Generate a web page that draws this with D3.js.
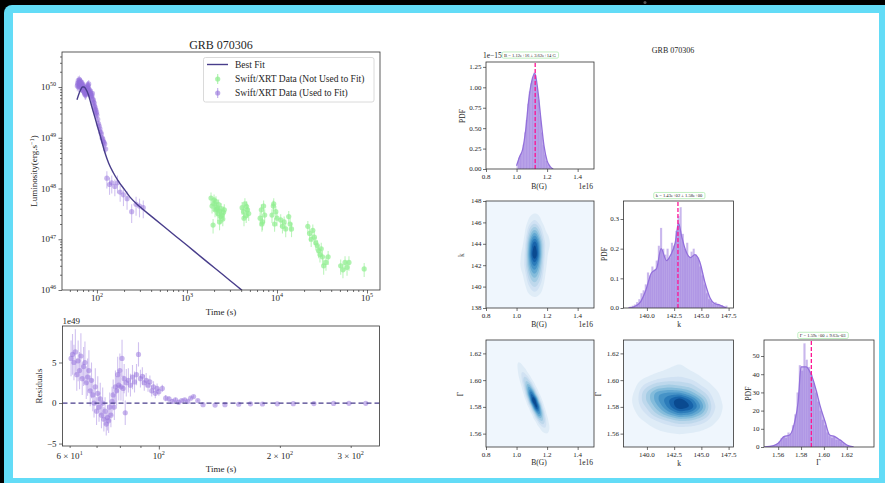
<!DOCTYPE html>
<html><head><meta charset="utf-8">
<script src="https://cdn.jsdelivr.net/npm/d3@7/dist/d3.min.js"></script>
<style>
html,body{margin:0;padding:0;background:#000;overflow:hidden}
svg{display:block}
text{font-family:"Liberation Serif","Times New Roman",Times,serif;fill:#262626}
</style></head><body>
<svg id="chart" width="885" height="483"></svg>
<script>
// ================= DATA =================
// Best-fit model light curve (time s, luminosity erg/s)
const fitTime = [60,63,66,69,72,75,80,85,90,95,100,108,115,123,135,151,175,200,233,300,400,550,750,1000,1500,2000,3000,4100,4400];
const fitLum  = [5.6e49,7.3e49,8.9e49,1.0e50,1.0e50,9.2e49,7.2e49,5.0e49,3.47e49,2.51e49,1.82e49,1.15e49,7.6e48,5.0e48,3.16e48,2.09e48,1.35e48,9.8e47,6.76e47,4.35e47,2.86e47,1.8e47,1.15e47,7.6e46,4.2e46,2.78e46,1.54e46,9.8e45,8.9e45];

// Swift/XRT data used to fit (time s, luminosity in 1e49 erg/s, error in 1e49, residual in 1e49)
const usedTime = [60.5,61,61.5,62,62.5,63,63.5,64,64.5,65,65.5,66,66.5,67,67.5,68,68.5,69,69.5,70,70.5,71,71.5,72,72.5,73,73.5,74,74.5,75,75.5,76,76.5,77,77.5,78,78.5,79,79.5,80,80.5,81,81.5,82,82.5,83,
  84,85,86,87,88,89,90,91,92,93,94,95,96,97,98,99,100,
  102,104,106,108,110,112,114,116,118,120,122,125,
  128.8,138,146,158,169,181,197,216,243,272,297,327];
const usedLum = [10.5,12.0,11.0,13.5,10.0,12.5,11.5,14.0,10.5,12.0,13.0,10.0,11.5,12.5,9.5,11.0,10.0,9.0,11.5,8.5,10.5,9.0,10.0,8.0,9.5,7.5,8.5,7.0,8.0,7.2,9.0,7.5,8.8,9.5,8.0,10.0,9.0,11.0,9.5,10.5,8.5,11.5,8.0,9.0,7.5,8.5,
  7.8,7.0,7.5,6.5,6.8,7.5,5.8,5.5,5.0,4.8,4.2,4.0,3.5,3.6,3.0,3.2,2.8,
  2.3,1.9,1.7,1.5,1.3,1.2,1.0,0.95,0.85,0.8,0.75,0.6,
  0.16,0.12,0.13,0.11,0.13,0.085,0.075,0.063,0.035,0.049,0.045,0.042];
const usedErr = [2.2,2.5,2.2,2.8,2.0,2.5,2.3,2.8,2.0,2.4,2.6,2.0,2.3,2.5,1.9,2.2,2.0,1.8,2.3,1.7,2.1,1.8,2.0,1.6,1.9,1.5,1.7,1.4,1.6,1.5,1.8,1.5,1.8,1.9,1.6,2.0,1.8,2.2,1.9,2.1,1.7,2.3,1.6,1.8,1.5,1.7,
  1.5,1.4,1.5,1.3,1.3,1.5,1.1,1.1,1.0,0.9,0.8,0.8,0.7,0.7,0.6,0.6,0.5,
  0.45,0.38,0.33,0.3,0.26,0.24,0.2,0.19,0.17,0.16,0.15,0.12,
  0.06,0.045,0.05,0.04,0.05,0.03,0.03,0.025,0.014,0.02,0.018,0.016];
const usedResid = [5.5,6.0,5.0,6.3,3.5,5.2,4.0,5.8,3.0,4.5,5.0,2.5,3.2,4.0,1.5,2.8,1.0,0.0,2.0,-1.0,1.2,-0.5,0.5,-1.5,0.0,-2.0,-1.0,-2.6,-1.8,-2.2,-0.5,-1.5,0.2,1.0,-0.5,2.0,1.5,3.5,2.2,4.0,2.0,5.5,1.8,3.0,-1.2,2.5,
  2.8,2.2,3.2,2.6,3.5,6.0,3.0,3.3,2.5,2.8,2.2,2.6,1.5,2.0,1.2,1.8,1.4,
  1.8,0.6,0.5,0.2,0.4,0.1,0.3,0.4,0.2,0.6,0.8,0.3,
  -0.2,-0.25,-0.2,-0.15,-0.1,-0.12,-0.1,-0.08,-0.07,-0.05,-0.04,-0.04];

// Swift/XRT data not used to fit (time s, luminosity in 1e47 erg/s, error in 1e47)
const greenTime = [1850,1900,1950,2000,2000,2050,2100,2150,2150,2200,2250,2300,2300,2350,2400,2450,2500,2550,2600,
  4100,4250,4300,4400,4550,4600,4700,4850, 6500,6700,6800,6900,7100,7300, 8800,9100,9200,9400,9700,10000,
  11000,11500,12000,12500,13500,14000,14500, 22000,23000,24000,25000,26000,
  27000,28000,29000,30000,31000,32000,33000,35000,37000, 51000,54000,57000,60000,63000, 93000];
const greenLum = [6.5,4.5,1.9,5.0,6.0,3.8,5.5,4.2,3.9,3.2,4.8,3.6,2.2,2.8,4.0,3.0,2.5,3.4,3.8,
  4.2,3.5,2.6,5.0,2.9,4.4,3.8,3.2, 2.6,3.8,2.0,2.2,4.5,3.0, 3.0,4.5,5.0,2.0,3.5,2.6,
  2.4,1.8,2.2,1.6,2.8,2.0,1.6, 1.8,1.3,1.0,1.5,1.1,
  0.85,0.75,0.6,0.5,0.65,0.45,0.3,0.35,0.45, 0.3,0.25,0.35,0.28,0.35, 0.26];
const greenErr = [1.8,1.3,0.6,1.4,1.6,1.1,1.5,1.2,1.1,0.9,1.3,1.0,0.7,0.8,1.1,0.9,0.7,1.0,1.1,
  1.2,1.0,0.8,1.4,0.8,1.2,1.1,0.9, 0.8,1.1,0.6,0.7,1.3,0.9, 0.9,1.3,1.4,0.6,1.0,0.8,
  0.7,0.5,0.6,0.5,0.8,0.6,0.5, 0.5,0.4,0.3,0.45,0.33,
  0.25,0.22,0.18,0.15,0.2,0.14,0.1,0.11,0.14, 0.1,0.08,0.11,0.09,0.11, 0.08];

// Tick values / labels
const mainXTicks = [1e2,1e3,1e4,1e5];
const mainXExp = ["2","3","4","5"];
const mainYTicks = [1e46,1e47,1e48,1e49,1e50];
const mainYExp = ["46","47","48","49","50"];
const residXTicks = [60,100,200,300];
const residXBase = ["6 × 10","10","2 × 10","3 × 10"];
const residXSup = ["1","2","2","2"];
const residXMinor = [70,80,90];
const residYTicks = [-5,0,5];

// Posterior histograms (B in 1e16 G, pdf in 1e-15)
const bBinCenter = [1.015,1.025,1.035,1.045,1.055,1.065,1.075,1.085,1.095,1.105,1.115,1.125,1.135,1.145,1.155,1.165,1.175,1.185,1.195,1.205,1.215];
const bBinPdf = [0.14,0.16,0.2,0.3,0.45,0.6,0.8,0.95,1.05,1.12,1.18,1.15,1.0,0.85,0.65,0.45,0.3,0.18,0.1,0.06,0.03];
const bKdeX = [1.00,1.02,1.04,1.06,1.08,1.10,1.12,1.14,1.16,1.18,1.20,1.22,1.24];
const bKdeY = [0.04,0.15,0.24,0.48,0.85,1.08,1.17,0.95,0.6,0.28,0.1,0.03,0.0];
const kBinCenter = [138.5,138.7,138.9,139.1,139.3,139.5,139.7,139.9,140.1,140.3,140.5,140.7,140.9,141.1,141.3,141.5,141.7,141.9,142.1,142.3,142.5,142.7,142.9,143.1,143.3,143.5,143.7,143.9,144.1,144.3,144.5,144.7,144.9,145.1,145.3,145.5,145.7,145.9,146.1,146.3,146.5,146.7,146.9,147.1,147.3];
const kBinPdf = [0.005,0.008,0.012,0.02,0.03,0.05,0.06,0.08,0.12,0.11,0.14,0.13,0.16,0.21,0.27,0.2,0.18,0.2,0.17,0.22,0.21,0.26,0.31,0.34,0.25,0.2,0.22,0.17,0.19,0.2,0.18,0.17,0.14,0.11,0.08,0.05,0.03,0.025,0.015,0.02,0.01,0.008,0.01,0.005,0.008];
const kKdeX = [138.3,138.8,139.4,139.9,140.4,140.9,141.3,141.8,142.2,142.6,142.9,143.2,143.5,144.0,144.4,144.85,145.3,145.8,146.2,146.7,147.3];
const kKdeY = [0.0,0.004,0.02,0.06,0.117,0.134,0.2,0.16,0.18,0.22,0.285,0.24,0.2,0.17,0.18,0.156,0.09,0.034,0.015,0.01,0.0];
const gBinCenter = [1.555,1.557,1.559,1.561,1.563,1.565,1.567,1.569,1.571,1.573,1.575,1.577,1.579,1.581,1.583,1.585,1.587,1.589,1.591,1.593,1.595,1.597,1.599,1.601,1.603,1.605,1.607,1.609,1.611,1.613,1.615,1.617,1.619,1.621,1.623];
const gBinPdf = [0.5,1,1.5,3,5,6,5,8,7,12,18,30,45,42,57,48,44,40,35,30,25,20,15,12,8,6,5,6,4,4,3,2,1,1,0.5];
const gKdeX = [1.548,1.556,1.560,1.565,1.570,1.5745,1.5775,1.580,1.5845,1.5875,1.5905,1.5935,1.5965,1.601,1.605,1.6095,1.614,1.620,1.626];
const gKdeY = [0,0.7,2,5.7,6.6,14,25,44,44,41.6,37,30.5,23,14,6.6,5.7,3.9,1.1,0];
const medians = {B:1.122, k:142.85, G:1.589};
const annot = {B:"B = 1.12e+16 ± 3.62e+14 G", k:"k = 1.43e+02 ± 1.58e+00", G:"Γ = 1.59e+00 ± 9.63e-03"};

// 2-D KDE density grids (relative density)
const bkGridB = [0.97,1.00,1.03,1.06,1.09,1.12,1.15,1.18,1.21,1.24,1.27];
const bkGridK = [138,139,140,141,142,143,144,145,146,147,148];
const bkGrid = [
 [0,0,0,0,0,0,0,0,0,0,0],
 [0,0,0,0,0.01,0.03,0.01,0,0,0,0],
 [0,0,0,0.02,0.12,0.2,0.1,0.01,0,0,0],
 [0,0,0.01,0.06,0.3,0.42,0.25,0.03,0,0,0],
 [0,0,0.04,0.12,0.5,0.68,0.4,0.06,0.01,0,0],
 [0,0,0.03,0.1,0.62,1.0,0.55,0.08,0.02,0,0],
 [0,0,0.01,0.06,0.55,0.85,0.5,0.1,0.05,0,0],
 [0,0,0,0.02,0.3,0.5,0.25,0.04,0.03,0,0],
 [0,0,0,0,0.08,0.15,0.06,0.01,0,0,0],
 [0,0,0,0,0,0.02,0.01,0,0,0,0],
 [0,0,0,0,0,0,0,0,0,0,0]];
const bgGridB = [0.98,1.00,1.02,1.04,1.06,1.08,1.10,1.12,1.14,1.16,1.18,1.20,1.22,1.24,1.26];
const bgGridG = [1.555,1.560,1.565,1.570,1.575,1.580,1.585,1.590,1.595,1.600,1.605,1.610,1.615,1.620,1.625];
const bgGrid = [
 [0,0,0,0,0,0,0,0,0,0,0,0,0,0,0],
 [0,0,0,0,0,0,0,0,0,0,0.01,0.03,0.01,0,0],
 [0,0,0,0,0,0,0,0,0,0.03,0.11,0.06,0.01,0,0],
 [0,0,0,0,0,0,0,0,0.06,0.26,0.17,0.02,0,0,0],
 [0,0,0,0,0,0,0,0.08,0.48,0.39,0.05,0,0,0,0],
 [0,0,0,0,0,0,0.08,0.63,0.70,0.11,0,0,0,0,0],
 [0,0,0,0,0,0.07,0.62,0.82,0.17,0.01,0,0,0,0,0],
 [0,0,0,0,0.04,0.41,0.66,0.17,0.01,0,0,0,0,0,0],
 [0,0,0,0.01,0.19,0.45,0.14,0.01,0,0,0,0,0,0,0],
 [0,0,0.005,0.09,0.25,0.09,0.005,0,0,0,0,0,0,0,0],
 [0,0,0.04,0.12,0.05,0,0,0,0,0,0,0,0,0,0],
 [0,0.013,0.05,0.03,0,0,0,0,0,0,0,0,0,0,0],
 [0.005,0.025,0.02,0,0,0,0,0,0,0,0,0,0,0,0],
 [0.005,0.008,0,0,0,0,0,0,0,0,0,0,0,0,0],
 [0,0,0,0,0,0,0,0,0,0,0,0,0,0,0]];
const kgGridK = [138,139,140,141,142,143,144,145,146,147,148];
const kgGridG = [1.555,1.560,1.565,1.570,1.575,1.580,1.585,1.590,1.595,1.600,1.605,1.610,1.615,1.620,1.625];
const kgGrid = [
 [0,0,0,0,0,0,0,0,0,0,0],
 [0,0,0,0.02,0.03,0.04,0.03,0.02,0,0,0],
 [0,0,0.02,0.05,0.08,0.1,0.09,0.06,0.03,0,0],
 [0,0.01,0.05,0.12,0.2,0.3,0.28,0.18,0.06,0.01,0],
 [0,0.03,0.12,0.3,0.5,0.65,0.6,0.4,0.12,0.02,0],
 [0,0.05,0.2,0.45,0.7,0.95,0.85,0.55,0.15,0.03,0],
 [0,0.06,0.3,0.55,0.75,0.95,0.75,0.45,0.12,0.02,0],
 [0,0.05,0.3,0.55,0.6,0.6,0.45,0.25,0.08,0.01,0],
 [0,0.03,0.18,0.3,0.35,0.3,0.25,0.12,0.04,0,0],
 [0,0.01,0.06,0.12,0.15,0.15,0.12,0.05,0.01,0,0],
 [0,0,0.01,0.04,0.06,0.08,0.05,0.02,0,0,0],
 [0,0,0,0.01,0.03,0.05,0.02,0,0,0,0],
 [0,0,0,0,0.01,0.02,0.01,0,0,0,0],
 [0,0,0,0,0,0,0,0,0,0,0],
 [0,0,0,0,0,0,0,0,0,0,0]];
const kdeLevels = [0.04,0.12,0.2,0.3,0.4,0.5,0.6,0.7,0.8,0.9];

// ================= DRAWING =================
const PURPLE="#9370DB", GREEN="#90EE90", FIT="#483D8B", PINK="#FF1493", AX="#333";
const svg = d3.select("#chart");
const defs = svg.append("defs");

// screen frame
svg.append("rect").attr("width",885).attr("height",483).attr("fill","#000");
svg.append("rect").attr("x",4).attr("y",5).attr("width",900).attr("height",500).attr("rx",8).attr("fill","#63DCF7");
svg.append("rect").attr("x",13).attr("y",13).attr("width",866).attr("height",465).attr("fill","#fff");
svg.append("circle").attr("cx",645).attr("cy",2.5).attr("r",1.5).attr("fill","#555");

function tickLines(g, orient, scale, pos, vals, len){
  const ax = (orient==="b"?d3.axisBottom(scale):d3.axisLeft(scale)).tickValues(vals).tickSize(len).tickFormat("");
  const a = g.append("g").attr("transform", orient==="b"?`translate(0,${pos})`:`translate(${pos},0)`).call(ax);
  a.select(".domain").remove();
  a.selectAll("line").attr("stroke",AX).attr("stroke-width",0.7);
  a.selectAll("text").remove();
}
function tickLabels(g, orient, scale, pos, vals, base, sup, fs, off){
  vals.forEach((v,i)=>{
    const t = g.append("text").attr("font-size",fs);
    if(orient==="b") t.attr("x",scale(v)).attr("y",pos+off).attr("text-anchor","middle");
    else t.attr("x",pos-off).attr("y",scale(v)).attr("dy","0.34em").attr("text-anchor","end");
    t.append("tspan").text(base[i]);
    if(sup && sup[i]) t.append("tspan").attr("dy",-fs*0.42).attr("font-size",fs*0.68).text(sup[i]);
  });
}
function spine(g, x0,y0,x1,y1){
  g.append("rect").attr("x",x0).attr("y",y0).attr("width",x1-x0).attr("height",y1-y0)
   .attr("fill","none").attr("stroke",AX).attr("stroke-width",0.8);
}
function clip(id,x0,y0,x1,y1){
  defs.append("clipPath").attr("id",id).append("rect").attr("x",x0).attr("y",y0).attr("width",x1-x0).attr("height",y1-y0);
  return `url(#${id})`;
}
function isDecade(v){ const l=Math.log10(v); return Math.abs(l-Math.round(l))<1e-9; }

// ---------- main light-curve ----------
const MB = {x0:62,x1:380,y0:52,y1:290};
const xMain = d3.scaleLog().domain([40.9,1.394e5]).range([MB.x0,MB.x1]);
const yMain = d3.scaleLog().domain([1e46,4.9e50]).range([MB.y1,MB.y0]);
const gm = svg.append("g");
const gmd = gm.append("g").attr("clip-path",clip("cMain",MB.x0,MB.y0,MB.x1,MB.y1));

const greenPts = greenTime.map((t,i)=>({t, L:greenLum[i]*1e47, e:greenErr[i]*1e47}));
const usedPts = usedTime.map((t,i)=>({t, L:usedLum[i]*1e49, e:usedErr[i]*1e49, r:usedResid[i], re:usedErr[i]}));

function errPoints(g, pts, xs, ys, col, op, getY, getE){
  g.append("g").selectAll("line").data(pts).join("line")
    .attr("x1",d=>xs(d.t)).attr("x2",d=>xs(d.t))
    .attr("y1",d=>ys(getY(d)+getE(d))).attr("y2",d=>ys(getY(d)-getE(d)))
    .attr("stroke",col).attr("stroke-width",1.1).attr("stroke-opacity",op*0.85);
  g.append("g").selectAll("circle").data(pts).join("circle")
    .attr("cx",d=>xs(d.t)).attr("cy",d=>ys(getY(d))).attr("r",2.6)
    .attr("fill",col).attr("fill-opacity",op);
}
errPoints(gmd, greenPts, xMain, yMain, GREEN, 0.7, d=>d.L, d=>Math.min(d.e, d.L*0.9));
errPoints(gmd, usedPts, xMain, yMain, PURPLE, 0.5, d=>d.L, d=>Math.min(d.e, d.L*0.9));
const fitPts = fitTime.map((t,i)=>({t, L:fitLum[i]}));
gmd.append("path").datum(fitPts)
  .attr("d", d3.line().x(d=>xMain(d.t)).y(d=>yMain(d.L)).curve(d3.curveMonotoneX))
  .attr("fill","none").attr("stroke",FIT).attr("stroke-width",1.4);

tickLines(gm,"b",xMain,MB.y1,mainXTicks,3.5);
tickLines(gm,"b",xMain,MB.y1,xMain.ticks().filter(v=>!isDecade(v)),2);
tickLines(gm,"l",yMain,MB.x0,mainYTicks,3.5);
tickLines(gm,"l",yMain,MB.x0,yMain.ticks().filter(v=>!isDecade(v)),2);
tickLabels(gm,"b",xMain,MB.y1,mainXTicks,mainXTicks.map(()=> "10"),mainXExp,9,11);
tickLabels(gm,"l",yMain,MB.x0,mainYTicks,mainYTicks.map(()=> "10"),mainYExp,9,6);
spine(gm,MB.x0,MB.y0,MB.x1,MB.y1);
gm.append("text").attr("x",(MB.x0+MB.x1)/2).attr("y",49).attr("text-anchor","middle").attr("font-size",12).text("GRB 070306");
gm.append("text").attr("x",(MB.x0+MB.x1)/2).attr("y",315).attr("text-anchor","middle").attr("font-size",9).text("Time (s)");
{
  const t = gm.append("text").attr("transform",`translate(37,${(MB.y0+MB.y1)/2}) rotate(-90)`).attr("text-anchor","middle").attr("font-size",9);
  t.append("tspan").text("Luminosity(erg.s");
  t.append("tspan").attr("dy",-3.5).attr("font-size",6.3).text("−1");
  t.append("tspan").attr("dy",3.5).text(")");
}
// legend
{
  const lg = gm.append("g");
  lg.append("rect").attr("x",203.5).attr("y",57.5).attr("width",170.5).attr("height",44.5).attr("rx",2)
    .attr("fill","#fff").attr("fill-opacity",0.85).attr("stroke","#d0d0d0").attr("stroke-width",0.8);
  lg.append("line").attr("x1",207).attr("x2",228).attr("y1",64.5).attr("y2",64.5).attr("stroke",FIT).attr("stroke-width",1.4);
  const items = [{y:79,c:GREEN,o:0.75},{y:93,c:PURPLE,o:0.6}];
  items.forEach(it=>{
    lg.append("line").attr("x1",217.7).attr("x2",217.7).attr("y1",it.y-5).attr("y2",it.y+5).attr("stroke",it.c).attr("stroke-width",1.1).attr("stroke-opacity",it.o);
    lg.append("circle").attr("cx",217.7).attr("cy",it.y).attr("r",2.6).attr("fill",it.c).attr("fill-opacity",it.o);
  });
  const texts = ["Best Fit","Swift/XRT Data (Not Used to Fit)","Swift/XRT Data (Used to Fit)"];
  [64.5,79,93].forEach((y,i)=>lg.append("text").attr("x",235).attr("y",y).attr("dy","0.34em").attr("font-size",9.5).text(texts[i]));
}

// ---------- residuals ----------
const RB = {x0:62.5,x1:379.5,y0:326,y1:446};
const xRes = d3.scaleLog().domain([57.6,353.8]).range([RB.x0,RB.x1]);
const yRes = d3.scaleLinear().domain([-5.3,9.5]).range([RB.y1,RB.y0]);
const gr = svg.append("g");
const grd = gr.append("g").attr("clip-path",clip("cRes",RB.x0,RB.y0,RB.x1,RB.y1));
errPoints(grd, usedPts, xRes, yRes, PURPLE, 0.5, d=>d.r, d=>d.re);
grd.append("line").attr("x1",xRes(xRes.domain()[0])).attr("x2",xRes(xRes.domain()[1]))
  .attr("y1",yRes(0)).attr("y2",yRes(0)).attr("stroke",FIT).attr("stroke-width",1.3).attr("stroke-dasharray","5,3");
tickLines(gr,"b",xRes,RB.y1,[100],3.5);
tickLines(gr,"b",xRes,RB.y1,[60,200,300].concat(residXMinor),2);
tickLines(gr,"l",yRes,RB.x0,residYTicks,3.5);
tickLabels(gr,"b",xRes,RB.y1,residXTicks,residXBase,residXSup,9,13);
tickLabels(gr,"l",yRes,RB.x0,residYTicks,residYTicks.map(v=>v<0?"−"+Math.abs(v):String(v)),null,9,6);
spine(gr,RB.x0,RB.y0,RB.x1,RB.y1);
gr.append("text").attr("x",RB.x0).attr("y",324).attr("font-size",9).text("1e49");
gr.append("text").attr("x",(RB.x0+RB.x1)/2).attr("y",472).attr("text-anchor","middle").attr("font-size",9).text("Time (s)");
gr.append("text").attr("transform",`translate(42,${(RB.y0+RB.y1)/2}) rotate(-90)`).attr("text-anchor","middle").attr("font-size",9).text("Residuals");

// ---------- corner plot ----------
const gc = svg.append("g");
gc.append("text").attr("x",673).attr("y",53).attr("text-anchor","middle").attr("font-size",8).text("GRB 070306");
const P = {
  b:{x0:486,y0:62,w:108,h:107}, bk:{x0:486,y0:201,w:108,h:107}, k:{x0:623.5,y0:201,w:110,h:107},
  bg:{x0:486,y0:340,w:108,h:107}, kg:{x0:623.5,y0:340,w:110,h:107}, g:{x0:764,y0:340,w:110,h:107}
};
Object.values(P).forEach(p=>{p.x1=p.x0+p.w; p.y1=p.y0+p.h;});
const sx = (p,dom)=>d3.scaleLinear().domain(dom).range([p.x0,p.x1]);
const sy = (p,dom)=>d3.scaleLinear().domain(dom).range([p.y1,p.y0]);
const BDOM=[0.8,1.507], KDOM=[137.85,147.95], KYDOM=[138,148], GYDOM=[1.55,1.63], GXDOM=[1.5476,1.6438];
const f1=d3.format(".1f"), f2=d3.format(".2f"), fd=d3.format("d");

function cornerAxes(p, xs, ys, xt, yt, xf, yf){
  const g = gc.append("g");
  tickLines(g,"b",xs,p.y1,xt,3); tickLines(g,"l",ys,p.x0,yt,3);
  tickLabels(g,"b",xs,p.y1,xt,xt.map(xf),null,7,9.5);
  tickLabels(g,"l",ys,p.x0,yt,yt.map(yf),null,7,4.5);
  spine(g,p.x0,p.y0,p.x1,p.y1);
  return g;
}
function axLabel(x,y,txt,rot){
  const t = gc.append("text").attr("font-size",7.5).attr("text-anchor","middle");
  if(rot) t.attr("transform",`translate(${x},${y}) rotate(-90)`).attr("dy","0.34em");
  else t.attr("x",x).attr("y",y).attr("dy","0.34em");
  t.text(txt);
}
function histPanel(p, xs, ys, centers, pdf, width, kx, ky, med, note, noteX, noteY, id){
  const g = gc.append("g").attr("clip-path",clip(id,p.x0,p.y0,p.x1,p.y1));
  g.append("g").selectAll("rect").data(centers).join("rect")
    .attr("x",(c)=>xs(c-width/2)).attr("width",c=>xs(c+width/2)-xs(c-width/2))
    .attr("y",(c,i)=>ys(pdf[i])).attr("height",(c,i)=>ys(0)-ys(pdf[i]))
    .attr("fill",PURPLE).attr("fill-opacity",0.5).attr("stroke","#fff").attr("stroke-opacity",0.45).attr("stroke-width",0.3);
  const kd = kx.map((x,i)=>({x,y:ky[i]}));
  g.append("path").datum(kd).attr("d",d3.area().x(d=>xs(d.x)).y0(ys(0)).y1(d=>ys(d.y)).curve(d3.curveMonotoneX))
    .attr("fill",PURPLE).attr("fill-opacity",0.45);
  g.append("path").datum(kd).attr("d",d3.line().x(d=>xs(d.x)).y(d=>ys(d.y)).curve(d3.curveMonotoneX))
    .attr("fill","none").attr("stroke",PURPLE).attr("stroke-width",1.3);
  g.append("line").attr("x1",xs(med)).attr("x2",xs(med)).attr("y1",p.y1).attr("y2",p.y0)
    .attr("stroke",PINK).attr("stroke-width",1.3).attr("stroke-dasharray","4,2");
  const t = gc.append("text").attr("x",noteX).attr("y",noteY).attr("dy","0.34em").attr("text-anchor","middle").attr("font-size",4.6).text(note);
  const bb = t.node().getBBox();
  gc.insert("rect", function(){ return t.node(); }).attr("x",bb.x-2).attr("y",bb.y-0.6).attr("width",bb.width+4).attr("height",bb.height+1.2)
    .attr("rx",1.5).attr("fill","#fff").attr("stroke","#a6e8a6").attr("stroke-width",0.7);
}
function bilinear(gx, gy, grid, x, y){
  if(x<=gx[0]||x>=gx[gx.length-1]||y<=gy[0]||y>=gy[gy.length-1]) return 0;
  const i = Math.min(d3.bisectRight(gx,x)-1, gx.length-2), j = Math.min(d3.bisectRight(gy,y)-1, gy.length-2);
  const tx=(x-gx[i])/(gx[i+1]-gx[i]), ty=(y-gy[j])/(gy[j+1]-gy[j]);
  return (1-tx)*(1-ty)*grid[j][i]+tx*(1-ty)*grid[j][i+1]+(1-tx)*ty*grid[j+1][i]+tx*ty*grid[j+1][i+1];
}
function boxBlur(a,w,h,r){
  const tmp=new Float64Array(a.length);
  for(let y=0;y<h;y++)for(let x=0;x<w;x++){let s=0,n=0;for(let k=-r;k<=r;k++){const xx=x+k;if(xx>=0&&xx<w){s+=a[y*w+xx];n++;}}tmp[y*w+x]=s/n;}
  for(let y=0;y<h;y++)for(let x=0;x<w;x++){let s=0,n=0;for(let k=-r;k<=r;k++){const yy=y+k;if(yy>=0&&yy<h){s+=tmp[yy*w+x];n++;}}a[y*w+x]=s/n;}
}
function kdePanel(p, xs, ys, gx, gy, grid, id){
  const g = gc.append("g").attr("clip-path",clip(id,p.x0,p.y0,p.x1,p.y1));
  g.append("rect").attr("x",p.x0).attr("y",p.y0).attr("width",p.w).attr("height",p.h).attr("fill","#eff6fd");
  const nx=Math.round(p.w), ny=Math.round(p.h);
  const vals=new Float64Array(nx*ny);
  for(let j=0;j<ny;j++)for(let i=0;i<nx;i++){
    vals[j*nx+i]=bilinear(gx,gy,grid,xs.invert(p.x0+i+0.5),ys.invert(p.y0+j+0.5));
  }
  boxBlur(vals,nx,ny,2); boxBlur(vals,nx,ny,1);
  const mx=d3.max(vals); for(let k=0;k<vals.length;k++) vals[k]/=mx;
  const cs=d3.contours().size([nx,ny]).thresholds(kdeLevels)(vals);
  const path=d3.geoPath(d3.geoIdentity().translate([p.x0,p.y0]));
  g.selectAll("path").data(cs).join("path").attr("d",path)
    .attr("fill",(d,i)=>d3.interpolateBlues(0.06+0.84*Math.pow((i+1)/kdeLevels.length,1.15)));
}

// B histogram
{
  const p=P.b, xs=sx(p,BDOM), ys=sy(p,[0,1.31]);
  histPanel(p,xs,ys,bBinCenter,bBinPdf,0.01,bKdeX,bKdeY,medians.B,annot.B,530,55,"cB");
  cornerAxes(p,xs,ys,[0.8,1.0,1.2,1.4],[0,0.25,0.5,0.75,1.0,1.25],f1,f2);
  axLabel(462,116,"PDF",true); axLabel(539,186,"B(G)"); 
  gc.append("text").attr("x",593).attr("y",186).attr("dy","0.34em").attr("text-anchor","end").attr("font-size",7.5).text("1e16");
  gc.append("text").attr("x",483).attr("y",58).attr("font-size",7.5).text("1e−15");
}
// B-k KDE
{
  const p=P.bk, xs=sx(p,BDOM), ys=sy(p,KYDOM);
  kdePanel(p,xs,ys,bkGridB,bkGridK,bkGrid,"cBK");
  cornerAxes(p,xs,ys,[0.8,1.0,1.2,1.4],[138,140,142,144,146,148],f1,fd);
  axLabel(461,255,"k",true); axLabel(539,324.5,"B(G)");
  gc.append("text").attr("x",593).attr("y",324.5).attr("dy","0.34em").attr("text-anchor","end").attr("font-size",7.5).text("1e16");
}
// k histogram
{
  const p=P.k, xs=sx(p,KDOM), ys=sy(p,[0,0.3607]);
  histPanel(p,xs,ys,kBinCenter,kBinPdf,0.2,kKdeX,kKdeY,medians.k,annot.k,679,195.5,"cK");
  cornerAxes(p,xs,ys,[140,142.5,145,147.5],[0,0.1,0.2,0.3],f1,f1);
  axLabel(604,254,"PDF",true); axLabel(679,324.5,"k");
}
// B-Gamma KDE
{
  const p=P.bg, xs=sx(p,BDOM), ys=sy(p,GYDOM);
  kdePanel(p,xs,ys,bgGridB,bgGridG,bgGrid,"cBG");
  cornerAxes(p,xs,ys,[0.8,1.0,1.2,1.4],[1.56,1.58,1.60,1.62],f1,f2);
  axLabel(460,394,"Γ",true); axLabel(539,462,"B(G)");
  gc.append("text").attr("x",593).attr("y",462).attr("dy","0.34em").attr("text-anchor","end").attr("font-size",7.5).text("1e16");
}
// k-Gamma KDE
{
  const p=P.kg, xs=sx(p,KDOM), ys=sy(p,GYDOM);
  kdePanel(p,xs,ys,kgGridK,kgGridG,kgGrid,"cKG");
  cornerAxes(p,xs,ys,[140,142.5,145,147.5],[1.56,1.58,1.60,1.62],f1,f2);
  axLabel(598.5,394,"Γ",true); axLabel(679,463,"k");
}
// Gamma histogram
{
  const p=P.g, xs=sx(p,GXDOM), ys=sy(p,[0,58.8]);
  histPanel(p,xs,ys,gBinCenter,gBinPdf,0.002,gKdeX,gKdeY,medians.G,annot.G,822.7,335.3,"cG");
  cornerAxes(p,xs,ys,[1.56,1.58,1.60,1.62],[0,10,20,30,40,50],f2,fd);
  axLabel(748.5,393.5,"PDF",true); axLabel(818.5,462,"Γ");
}
</script>
</body></html>
